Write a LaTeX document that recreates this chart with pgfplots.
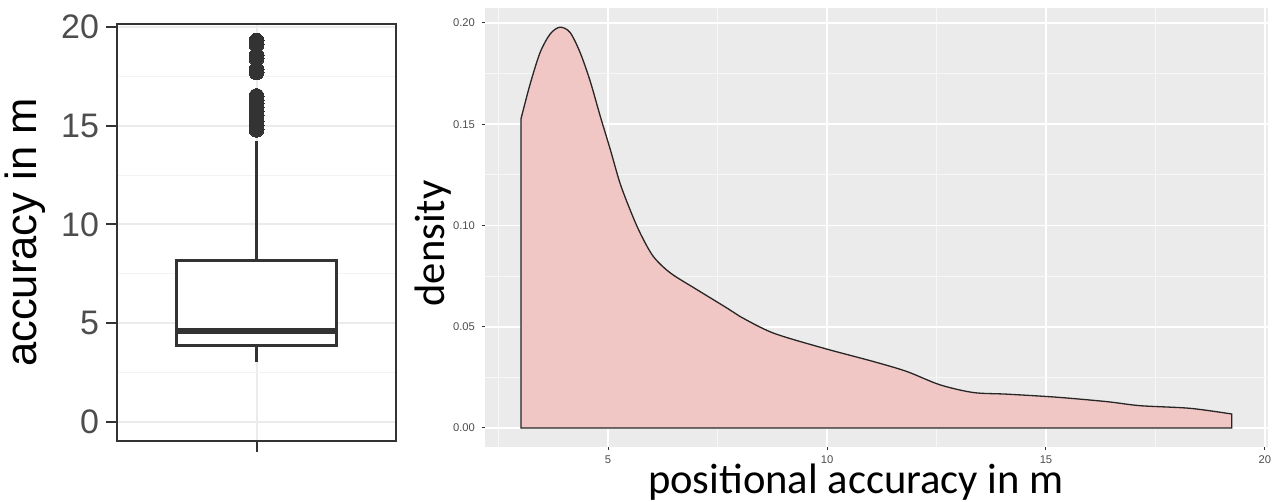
\documentclass[border=0pt]{standalone}
\usepackage{fontspec}
\setmainfont{Liberation Sans}
\newfontfamily\calib{Carlito}
\usepackage{pgfplots}
\pgfplotsset{compat=1.18}
\definecolor{dgrey}{HTML}{333333}
\definecolor{tgrey}{HTML}{4D4D4D}
\definecolor{gridl}{HTML}{EBEBEB}
\definecolor{gridm}{HTML}{F3F3F3}
\definecolor{panel}{HTML}{EBEBEB}
\definecolor{pinkfill}{RGB}{241,199,197}
\begin{document}
\begin{tikzpicture}
\useasboundingbox (0pt,0pt) rectangle (638pt,251pt);
% ---------- left: boxplot ----------
\begin{axis}[at={(58.5pt,30.5pt)}, anchor=south west, scale only axis,
  width=139.5pt, height=208.5pt,
  xmin=-1, xmax=1, ymin=-0.96, ymax=20.15,
  xtick={0}, xticklabels={},
  ytick={0,5,10,15,20}, minor ytick={2.5,7.5,12.5,17.5},
  tick pos=left, tick align=outside, major tick length=5.5pt, minor tick length=0pt,
  tick style={dgrey, line width=1pt},
  axis line style={dgrey, line width=1pt},
  grid=both, major grid style={gridl, line width=1pt}, minor grid style={gridm, line width=0.6pt},
  yticklabel style={font=\fontsize{17}{17}\selectfont, text=tgrey},
  /pgf/number format/assume math mode=true,
  ylabel={accuracy in m},
  ylabel style={font=\fontsize{21.8}{22}\selectfont, at={(axis description cs:-0.33,0.5)}, anchor=center},
]
% whiskers
\addplot[dgrey, line width=1.4pt] coordinates {(0,8.18) (0,14.24)};
\addplot[dgrey, line width=1.4pt] coordinates {(0,3.89) (0,3.03)};
% box
\addplot[dgrey, line width=1.4pt, fill=white] coordinates {(-0.5735,3.89) (0.5735,3.89) (0.5735,8.18) (-0.5735,8.18)} -- cycle;
% median
\addplot[dgrey, line width=3.2pt] coordinates {(-0.5735,4.6) (0.5735,4.6)};
% outliers
\addplot[only marks, mark=*, mark size=3.75pt, mark options={fill=dgrey, draw=dgrey, line width=0pt}] coordinates {
(0,14.8) (0,15.0) (0,15.2) (0,15.5) (0,15.7) (0,15.9) (0,16.1) (0,16.3) (0,16.5)
(0,17.7) (0,17.85) (0,18.4) (0,18.55) (0,19.1) (0,19.3)
};
\end{axis}
% ---------- right: density ----------
\begin{axis}[at={(242.5pt,27.5pt)}, anchor=south west, scale only axis,
  width=391.5pt, height=219.5pt,
  xmin=2.19, xmax=20.07, ymin=-0.0094, ymax=0.2074,
  axis line style={draw=none}, axis background/.style={fill=panel},
  xtick={5,10,15,20}, minor xtick={2.5,7.5,12.5,17.5},
  ytick={0,0.05,0.1,0.15,0.2}, yticklabels={0.00,0.05,0.10,0.15,0.20},
  minor ytick={0.025,0.075,0.125,0.175},
  grid=both, major grid style={white, line width=0.9pt}, minor grid style={white!60!panel, line width=0.5pt},
  tick pos=left, tick align=outside, major tick length=1.5pt, minor tick length=0pt,
  tick style={dgrey, line width=0.5pt},
  ticklabel style={font=\fontsize{5.6}{6}\selectfont, text=tgrey},
  xticklabel style={yshift=0.6pt},
  /pgf/number format/assume math mode=true,
  xlabel={positional accuracy in m}, ylabel={density},
  label style={font=\calib\fontsize{21.3}{22}\selectfont},
  xlabel style={at={(axis description cs:0.4738,-0.0800)}, anchor=center},
  ylabel style={at={(axis description cs:-0.0658,0.4636)}, anchor=center},
]
\addplot[draw=black!85, line width=0.65pt, fill=pinkfill, smooth, tension=0.5] coordinates {
(3.01,0.1525) (3.22,0.1698) (3.45,0.1855) (3.68,0.1946) (3.90,0.1979) (4.13,0.1954)
(4.36,0.1855) (4.59,0.1714) (4.82,0.1541) (5.05,0.1376) (5.27,0.1211) (5.50,0.1079)
(5.73,0.0964) (6.03,0.0848) (6.42,0.0766) (7.03,0.0683) (7.71,0.0593) (8.01,0.0551)
(8.77,0.0469) (9.92,0.0394) (11.06,0.0328) (11.82,0.0279) (12.58,0.0213) (13.34,0.0175)
(14.10,0.0167) (15.24,0.0152) (16.39,0.0130) (17.15,0.0110) (18.29,0.0097) (19.24,0.0069)
} \closedcycle;
\end{axis}
\end{tikzpicture}
\end{document}
